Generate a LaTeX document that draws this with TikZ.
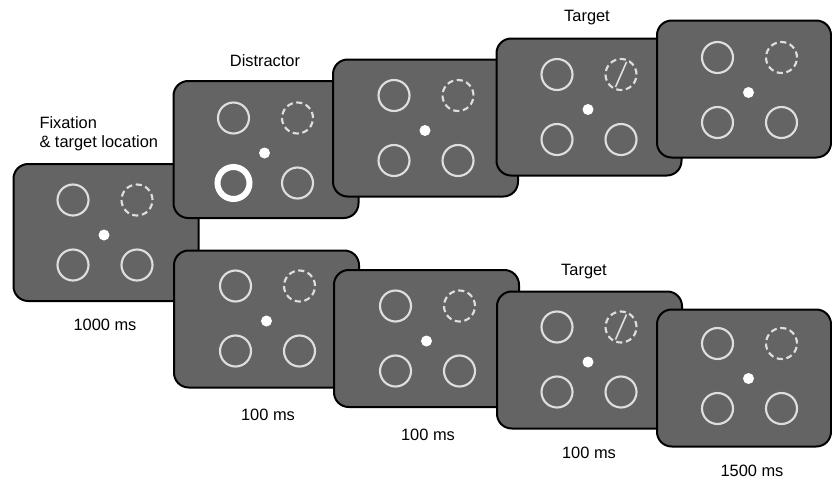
\documentclass[tikz,border=0pt]{standalone}
\usepackage{fontspec}
\setmainfont{Liberation Sans}

\definecolor{screengray}{RGB}{100,100,100}
\definecolor{ringgray}{RGB}{222,222,222}

\tikzset{every picture/.style={line width=0.75pt}}
\tikzset{
  screen/.style={draw=black, fill=screengray, line width=1.5pt, rounded corners=11pt, inner sep=0pt,
    minimum width=185*0.75pt, minimum height=137*0.75pt},
  ring/.style={draw=ringgray, line width=1.6pt},
  cuering/.style={ring, dash pattern=on 4.6pt off 2.7pt},
  lbl/.style={font=\fontsize{12.3pt}{14pt}\selectfont, inner sep=0pt},
  % inside the pic the y axis points up
  pics/placeholders/.style={code={
    \draw [ring] (-32,32.5) circle (15.5);
    \draw [cuering] (32,32.5) circle (15.5);
    \draw [ring] (-32,-32.5) circle (15.5);
    \draw [ring] (32,-32.5) circle (15.5);
    \fill [white] (-1,-2.5) circle (5.5);
  }}
}

\begin{document}
\begin{tikzpicture}[x=0.75pt,y=0.75pt,yscale=-1,xscale=1]
\useasboundingbox (0,0) rectangle (832,482);

%Fixation screen
\node [screen] (fix) at (106,232.5) {};
\pic at (105,232.5) {placeholders};

%Upper row: distractor
\node [screen] (dis) at (266,149.5) {};
\pic at (265.5,150.5) {placeholders};
\draw [white, line width=4.5pt] (233.5,183) circle (16);
\node [screen] (upisi) at (425.5,128) {};
\pic at (426,128) {placeholders};
\node [screen] (uptgt) at (589,107) {};
\pic at (589,107) {placeholders};
\draw [ringgray, line width=1.2pt] (615.5,87) -- (626.5,62);
\node [screen, minimum width=174*0.75pt] (upend) at (744,89) {};
\pic at (749.5,90) {placeholders};

%Lower row: no distractor
\node [screen] (nodis) at (266.5,319) {};
\pic at (267.5,318.5) {placeholders};
\node [screen] (loisi) at (426.5,338.5) {};
\pic at (427.5,338.5) {placeholders};
\node [screen] (lotgt) at (589.5,360) {};
\pic at (589,359.5) {placeholders};
\draw [ringgray, line width=1.2pt] (615.5,339.5) -- (626.5,314.5);
\node [screen, minimum width=174*0.75pt] (loend) at (744,378) {};
\pic at (749.5,376) {placeholders};

% Text Node
\node [lbl, anchor=base west] (fixtitle) at (39,128) {Fixation};
\node [lbl, anchor=base west] (fixtitleb) at (39,147) {\& target location};
\node [lbl, anchor=base] (distitle) at (265,66) {Distractor};
\node [lbl, anchor=base] (uptgttitle) at (587,21.7) {Target};
\node [lbl, anchor=base] (lotgttitle) at (584,275.7) {Target};
% Text Node
\node [lbl, anchor=base] (fixtime) at (105,330.7) {1000 ms};
\node [lbl, anchor=base] (distime) at (268,420) {100 ms};
\node [lbl, anchor=base] (isitime) at (428,440) {100 ms};
\node [lbl, anchor=base] (tgttime) at (589,458) {100 ms};
\node [lbl, anchor=base] (endtime) at (752,476.7) {1500 ms};
\end{tikzpicture}
\end{document}
